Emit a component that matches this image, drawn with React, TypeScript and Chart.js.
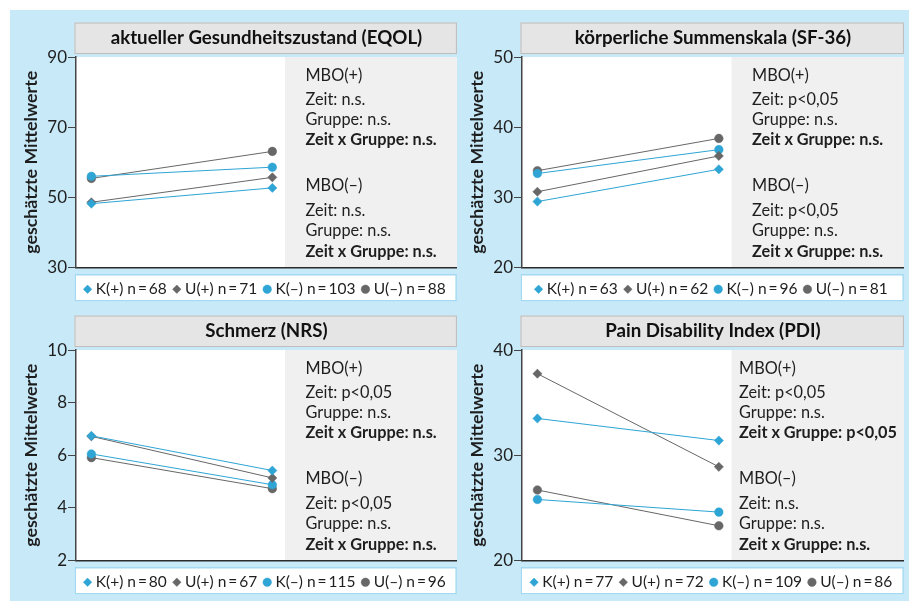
import React, { useEffect, useRef } from 'react';
import { Chart, registerables } from 'chart.js';

Chart.register(...registerables);

const FONT = 'Lato, "Open Sans", "DejaVu Sans", sans-serif';
const BLUE = '#2ea5d5';
const GRAY = '#676767';
const TEXT = '#1e1e1e';

// x positions of the two measurement times
const timePoints = [0, 1];

// groups (legend)
const groupLabels = ['K(+)', 'U(+)', 'K(–)', 'U(–)'];
const groupColors = [BLUE, GRAY, BLUE, GRAY];
const groupShapes = ['rectRot', 'rectRot', 'circle', 'circle'];

// panel titles
const titles = [
  'aktueller Gesundheitszustand (EQOL)',
  'körperliche Summenskala (SF-36)',
  'Schmerz (NRS)',
  'Pain Disability Index (PDI)',
];

const yAxisTitle = 'geschätzte Mittelwerte';

// y tick labels
const eqolTicks = [30, 50, 70, 90];
const sf36Ticks = [20, 30, 40, 50];
const nrsTicks = [2, 4, 6, 8, 10];
const pdiTicks = [20, 30, 40];

// EQOL values [t0, t1]
const eqolKPlus = [48.2, 52.7];
const eqolUPlus = [48.6, 55.7];
const eqolKMinus = [56.0, 58.6];
const eqolUMinus = [55.4, 63.1];

// SF-36 values
const sf36KPlus = [29.4, 34.0];
const sf36UPlus = [30.8, 35.9];
const sf36KMinus = [33.4, 36.8];
const sf36UMinus = [33.8, 38.4];

// NRS values
const nrsKPlus = [6.74, 5.42];
const nrsUPlus = [6.72, 5.14];
const nrsKMinus = [6.05, 4.88];
const nrsUMinus = [5.91, 4.73];

// PDI values
const pdiKPlus = [33.5, 31.4];
const pdiUPlus = [37.75, 28.9];
const pdiKMinus = [25.8, 24.6];
const pdiUMinus = [26.7, 23.3];

// sample sizes per group
const eqolN = [68, 71, 103, 88];
const sf36N = [63, 62, 96, 81];
const nrsN = [80, 67, 115, 96];
const pdiN = [77, 72, 109, 86];

// statistics text
const eqolStats = ['MBO(+)', 'Zeit: n.s.', 'Gruppe: n.s.', 'Zeit x Gruppe: n.s.', 'MBO(–)', 'Zeit: n.s.', 'Gruppe: n.s.', 'Zeit x Gruppe: n.s.'];
const sf36Stats = ['MBO(+)', 'Zeit: p<0,05', 'Gruppe: n.s.', 'Zeit x Gruppe: n.s.', 'MBO(–)', 'Zeit: p<0,05', 'Gruppe: n.s.', 'Zeit x Gruppe: n.s.'];
const nrsStats = ['MBO(+)', 'Zeit: p<0,05', 'Gruppe: n.s.', 'Zeit x Gruppe: n.s.', 'MBO(–)', 'Zeit: p<0,05', 'Gruppe: n.s.', 'Zeit x Gruppe: n.s.'];
const pdiStats = ['MBO(+)', 'Zeit: p<0,05', 'Gruppe: n.s.', 'Zeit x Gruppe: p<0,05', 'MBO(–)', 'Zeit: n.s.', 'Gruppe: n.s.', 'Zeit x Gruppe: n.s.'];

const panels = [
  { title: titles[0], ticks: eqolTicks, series: [eqolKPlus, eqolUPlus, eqolKMinus, eqolUMinus], ns: eqolN, stats: eqolStats },
  { title: titles[1], ticks: sf36Ticks, series: [sf36KPlus, sf36UPlus, sf36KMinus, sf36UMinus], ns: sf36N, stats: sf36Stats },
  { title: titles[2], ticks: nrsTicks, series: [nrsKPlus, nrsUPlus, nrsKMinus, nrsUMinus], ns: nrsN, stats: nrsStats },
  { title: titles[3], ticks: pdiTicks, series: [pdiKPlus, pdiUPlus, pdiKMinus, pdiUMinus], ns: pdiN, stats: pdiStats },
];

// layout of the four canvases
const boxes = [
  { x: 10, y: 14, w: 452, h: 294 },
  { x: 456, y: 14, w: 453, h: 294 },
  { x: 10, y: 307, w: 452, h: 294 },
  { x: 456, y: 307, w: 453, h: 294 },
];
// indent of the statistics text inside the gray area
const statIndents = [20.5, 20.5, 20.5, 7.5];

const statLineOffsets = [19, 43, 63, 83, 129, 154, 174, 195];
const boldLines = [3, 7];

const decorPlugin = {
  id: 'panelDecor',
  beforeDraw(chart: any, _args: any, opts: any) {
    const { ctx, chartArea } = chart;
    const xs = chart.scales.x;
    ctx.save();
    const bx = chartArea.left - 1.5;
    const bw = chartArea.right - bx;
    // title box
    const bt = chartArea.top - 34.5;
    const bh = 31.5;
    ctx.fillStyle = '#e5e5e5';
    ctx.fillRect(bx, bt, bw, bh);
    ctx.strokeStyle = '#bdbdbd';
    ctx.lineWidth = 1;
    ctx.strokeRect(bx + 0.5, bt + 0.5, bw - 1, bh - 1);
    // legend box
    const lt = chartArea.bottom + 6.5;
    const lh = 27.5;
    ctx.fillStyle = '#ffffff';
    ctx.fillRect(bx, lt, bw, lh);
    ctx.strokeStyle = '#a3daf1';
    ctx.lineWidth = 1.5;
    ctx.strokeRect(bx + 0.75, lt + 0.75, bw - 1.5, lh - 1.5);
    // plot background
    ctx.fillStyle = '#ffffff';
    ctx.fillRect(chartArea.left, chartArea.top, chartArea.width, chartArea.height);
    // gray stats area
    const gx = xs.getPixelForValue(opts.grayFrom);
    ctx.fillStyle = '#f0f0f0';
    ctx.fillRect(gx, chartArea.top, chartArea.right - gx, chartArea.height);
    // stats text
    ctx.fillStyle = TEXT;
    ctx.textBaseline = 'middle';
    ctx.textAlign = 'left';
    (opts.stats as string[]).forEach((line, i) => {
      ctx.font = `${boldLines.includes(i) ? 'bold ' : ''}16.3px ${FONT}`;
      ctx.fillText(line, gx + opts.indent, chartArea.top + statLineOffsets[i]);
    });
    ctx.restore();
  },
};

function Panel({ spec, box, indent }: { spec: any; box: any; indent: number }) {
  const ref = useRef<HTMLCanvasElement>(null);
  useEffect(() => {
    const canvas = ref.current;
    if (!canvas) return;
    const tickValues: number[] = spec.ticks;
    const chart = new Chart(canvas, {
      type: 'line',
      data: {
        datasets: groupLabels.map((g, i) => ({
          label: `${g} n\u2009=\u2009${spec.ns[i]}`,
          data: (spec.series[i] as number[]).map((v, j) => ({ x: timePoints[j], y: v })),
          borderColor: groupColors[i],
          borderWidth: 1,
          pointStyle: groupShapes[i] as any,
          pointRadius: groupShapes[i] === 'circle' ? 4.3 : 4.6,
          pointBackgroundColor: groupColors[i],
          pointBorderColor: groupColors[i],
          pointBorderWidth: 0.5,
          fill: false,
          tension: 0,
        })),
      },
      options: {
        animation: false,
        responsive: false,
        devicePixelRatio: 1,
        layout: { padding: { left: 4, right: 2, top: 4, bottom: 1 } },
        scales: {
          x: {
            type: 'linear',
            min: -0.085,
            max: 2.02,
            display: true,
            ticks: { display: false },
            grid: { display: false, drawTicks: true, tickLength: 4.5 },
            border: { display: true, color: '#2b2b2b', width: 1.5 },
          },
          y: {
            type: 'linear',
            min: tickValues[0],
            max: tickValues[tickValues.length - 1],
            afterBuildTicks: (s: any) => {
              s.ticks = tickValues.map((v) => ({ value: v }));
            },
            afterFit: (s: any) => {
              s.width = 62;
            },
            ticks: {
              padding: 1,
              color: TEXT,
              font: { family: FONT, size: 17 },
            },
            grid: { display: true, drawOnChartArea: false, drawTicks: true, tickLength: 8, color: '#444' },
            border: { display: true, color: '#444', width: 1.5 },
            title: {
              display: true,
              text: yAxisTitle,
              color: TEXT,
              font: { family: FONT, size: 17.8, weight: 'bold' },
              padding: { top: 6.5, bottom: 0 },
            },
          },
        },
        plugins: {
          title: {
            display: true,
            text: spec.title,
            fullSize: false,
            color: '#111',
            font: { family: FONT, size: 18.7, weight: 'bold' },
            padding: { top: 9, bottom: 7.6 },
          },
          legend: {
            display: true,
            position: 'bottom',
            fullSize: false,
            labels: {
              usePointStyle: true,
              boxWidth: 1,
              boxHeight: 6,
              padding: 9.5,
              color: TEXT,
              font: { family: FONT, size: 15.5 },
            },
          },
          tooltip: { enabled: false },
          panelDecor: { grayFrom: 1.07, stats: spec.stats, indent },
        } as any,
      },
      plugins: [decorPlugin],
    });
    return () => chart.destroy();
  }, []);
  return (
    <canvas
      ref={ref}
      width={box.w}
      height={box.h}
      style={{ position: 'absolute', left: box.x, top: box.y, width: box.w, height: box.h }}
    />
  );
}

export default function App() {
  return (
    <div style={{ position: 'absolute', left: 0, top: 0, width: 909, height: 601, background: '#ffffff', overflow: 'hidden' }}>
      <div style={{ position: 'absolute', left: 10, top: 10, width: 899, height: 591, background: '#c8e9f8' }} />
      {panels.map((p, i) => (
        <Panel key={i} spec={p} box={boxes[i]} indent={statIndents[i]} />
      ))}
    </div>
  );
}
